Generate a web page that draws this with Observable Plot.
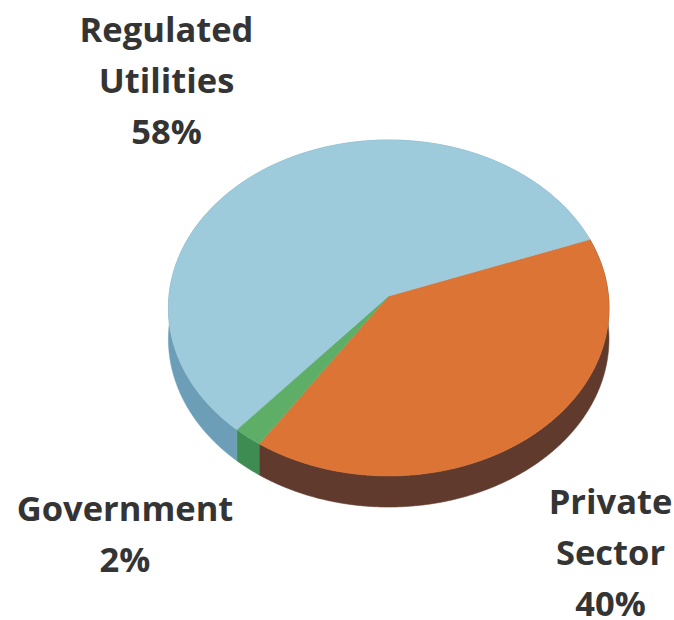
<!DOCTYPE html>
<html>
<head>
<meta charset="utf-8">
<script src="https://cdn.jsdelivr.net/npm/d3@7"></script>
<script src="https://cdn.jsdelivr.net/npm/@observablehq/plot@0.6"></script>
<style>
  html, body { margin: 0; padding: 0; background: #fff; }
  svg { display: block; }
</style>
</head>
<body>
<div id="chart"></div>
<script>
// Share of the total by owner type, in percent
const categories = ["Private Sector", "Government", "Regulated Utilities"];
const shares = [40, 2, 58];

// Colours of the top faces and of the side walls
const topColors = ["#DC7436", "#5FAE68", "#9DCBDC"];
const wallColors = ["#5F3A2D", "#3F8C52", "#6C9FB7"];

// Where each label's centre sits, in pixels
const labelCenters = [[610, 548.5], [124.5, 530], [166, 76.5]];

// Disc geometry: a unit circle seen in perspective
const startDegrees = -20.3;
const perspective = -0.0714;
const wallDepth = 0.186;
const stepDegrees = 0.25;

const project = (degrees, drop = 0) => {
  const t = degrees * Math.PI / 180;
  const u = Math.cos(t), v = Math.sin(t);
  const w = 1 + perspective * v;
  return {x: u / w, y: v / w + drop};
};

// Turn the shares into rim samples, one run of angles per slice
let running = startDegrees;
const rim = categories.flatMap((category, i) => {
  const from = running;
  const to = from + shares[i] * 3.6;
  running = to;
  const n = Math.ceil((to - from) / stepDegrees);
  return d3.range(n + 1).map((k) => {
    const a = from + (to - from) * k / n;
    const top = project(a);
    const bottom = project(a, wallDepth);
    return {category, x: top.x, y: top.y, xb: bottom.x, yb: bottom.y};
  });
});

const scales = {
  x: {domain: [-1, 1], range: [388.7 - 219.7, 388.7 + 219.7], axis: null},
  y: {domain: [-1, 1], range: [296 - 167.1, 296 + 167.1], axis: null},
  color: {domain: categories, range: topColors}
};

const labelMarks = categories.map((category, i) =>
  Plot.text([`${category.replace(" ", "\n")}\n${shares[i]}%`], {
    frameAnchor: "top-left",
    dx: labelCenters[i][0],
    dy: labelCenters[i][1],
    textAnchor: "middle",
    lineAnchor: "middle",
    lineHeight: 1.48,
    fontFamily: "'Open Sans', sans-serif",
    fontWeight: 700,
    fontSize: 34.5,
    fill: "#343434"
  })
);

const chart = Plot.plot({
  width: 674,
  height: 620,
  margin: 0,
  style: {background: "#ffffff"},
  ...scales,
  marks: [
    // side walls, hidden at the back by the top faces drawn over them
    ...categories.map((category, i) =>
      Plot.area(rim.filter((d) => d.category === category), {
        x1: "x", y1: "y", x2: "xb", y2: "yb",
        fill: wallColors[i], stroke: wallColors[i], strokeWidth: 0.6
      })
    ),
    // top faces: each slice fans out from the centre of the disc
    ...categories.map((category, i) =>
      Plot.area(rim.filter((d) => d.category === category), {
        x1: () => 0, y1: () => 0, x2: "x", y2: "y",
        fill: topColors[i], stroke: topColors[i], strokeWidth: 0.6
      })
    ),
    ...labelMarks
  ]
});

document.getElementById("chart").append(chart);
</script>
</body>
</html>
